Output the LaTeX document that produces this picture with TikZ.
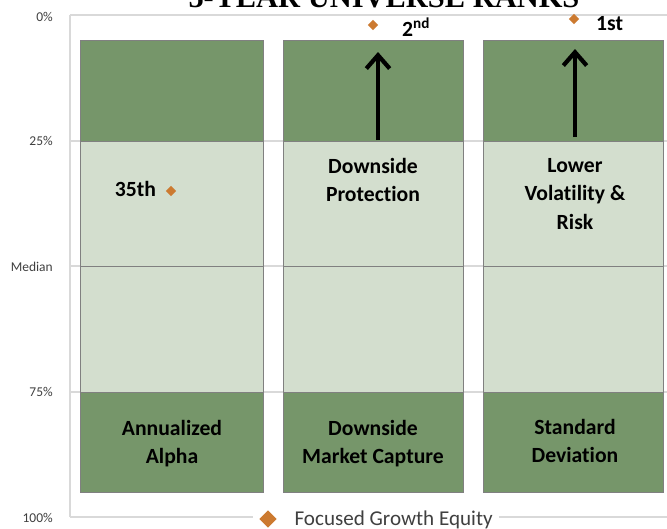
\documentclass[tikz,border=0pt]{standalone}
\usepackage{fontspec}
\setmainfont{Carlito}[Ligatures=NoCommon]
\newfontfamily\titlefont{Liberation Serif}
\usepackage{tikz}
\usetikzlibrary{positioning, shapes.geometric, arrows.meta}
\definecolor{bandDark}{RGB}{118,150,106}
\definecolor{bandLight}{RGB}{211,222,206}
\definecolor{barEdge}{RGB}{128,128,128}
\definecolor{gridGray}{RGB}{217,217,217}
\definecolor{rankOrange}{RGB}{204,122,48}
\definecolor{axisGray}{RGB}{64,64,64}
\tikzset{
  band/.style={draw=barEdge, line width=0.8pt},
  darkband/.style={band, fill=bandDark},
  lightband/.style={band, fill=bandLight},
  gridline/.style={draw=gridGray, line width=0.9pt},
  rankmark/.style={diamond, fill=rankOrange, inner sep=0pt, minimum size=9pt},
  ranklabel/.style={font=\bfseries\fontsize{18.5}{24}\selectfont, align=center, inner sep=0pt},
  axislabel/.style={font=\fontsize{11.5}{12}\selectfont, text=axisGray, anchor=east, inner sep=0pt},
  uparrow/.style={-{Straight Barb[length=4mm, width=7mm]}, line width=3.6pt},
}

\begin{document}
\begin{tikzpicture}[x=0.03cm, y=-0.03cm]
  \useasboundingbox[fill=white] (0,0) rectangle (667,528);

  % Title, cut at the top edge
  \begin{scope}
    \clip (0,0) rectangle (667,528);
    \node[font=\titlefont\bfseries\fontsize{26}{30}\selectfont, anchor=base, inner sep=0pt] (title) at (384,7) {5-YEAR UNIVERSE RANKS};
  \end{scope}

  % Grid
  \draw[gridline] (70,15) -- (70,517);
  \foreach \gy in {15, 141, 266, 392}
    \draw[gridline] (70,\gy) -- (667,\gy);

  % Axis labels
  \node[axislabel] (p0) at (53,17) {0\%};
  \node[axislabel] (p25) at (53,141) {25\%};
  \node[axislabel] (pmed) at (53,267) {Median};
  \node[axislabel] (p75) at (53,392) {75\%};
  \node[axislabel] (p100) at (53,518) {100\%};

  % Bars
  \foreach \xl/\xr in {80/263, 283/463, 483/663} {
    \filldraw[darkband] (\xl,40) rectangle (\xr,141);
    \filldraw[lightband] (\xl,141) rectangle (\xr,266);
    \filldraw[lightband] (\xl,266) rectangle (\xr,392);
    \filldraw[darkband] (\xl,392) rectangle (\xr,492);
  }

  % Bar names
  \node[ranklabel] (alpha) at (172,444) {Annualized\\Alpha};
  \node[ranklabel] (capture) at (373,444) {Downside\\Market Capture};
  \node[ranklabel] (stdev) at (575,441) {Standard\\Deviation};

  % Ranks
  \node[rankmark] (rank1) at (171,191) {};
  \node[ranklabel, left=8pt of rank1, yshift=2pt] (rank1txt) {35th};
  \node[rankmark] (rank2) at (373,25) {};
  \node[ranklabel, right=20pt of rank2, yshift=-2pt] (rank2txt) {2\textsuperscript{nd}};
  \node[rankmark] (rank3) at (574,19) {};
  \node[ranklabel, right=14pt of rank3, yshift=-4pt] (rank3txt) {1st};

  % Comments in the middle band
  \node[ranklabel] (protect) at (373,180) {Downside\\Protection};
  \node[ranklabel] (risk) at (575,194) {Lower\\Volatility \&\\Risk};

  % Arrows
  \coordinate (base2) at (378,140);
  \coordinate (tip2) at (378,52);
  \coordinate (base3) at (575,137);
  \coordinate (tip3) at (575,49);
  \draw[uparrow] (base2) -- (tip2);
  \draw[uparrow] (base3) -- (tip3);

  % Legend
  \node[rankmark, minimum size=15pt] (legmark) at (268,519) {};
  \node[font=\fontsize{18}{20}\selectfont, text=axisGray, anchor=west, inner sep=2pt] (legend) at (292,520) {Focused Growth Equity};
  \draw[gridline] (70,517) -- ([xshift=-5pt]legmark.west |- 0,517);
  \draw[gridline] ([xshift=3pt]legend.east |- 0,517) -- (667,517);
\end{tikzpicture}
\end{document}
